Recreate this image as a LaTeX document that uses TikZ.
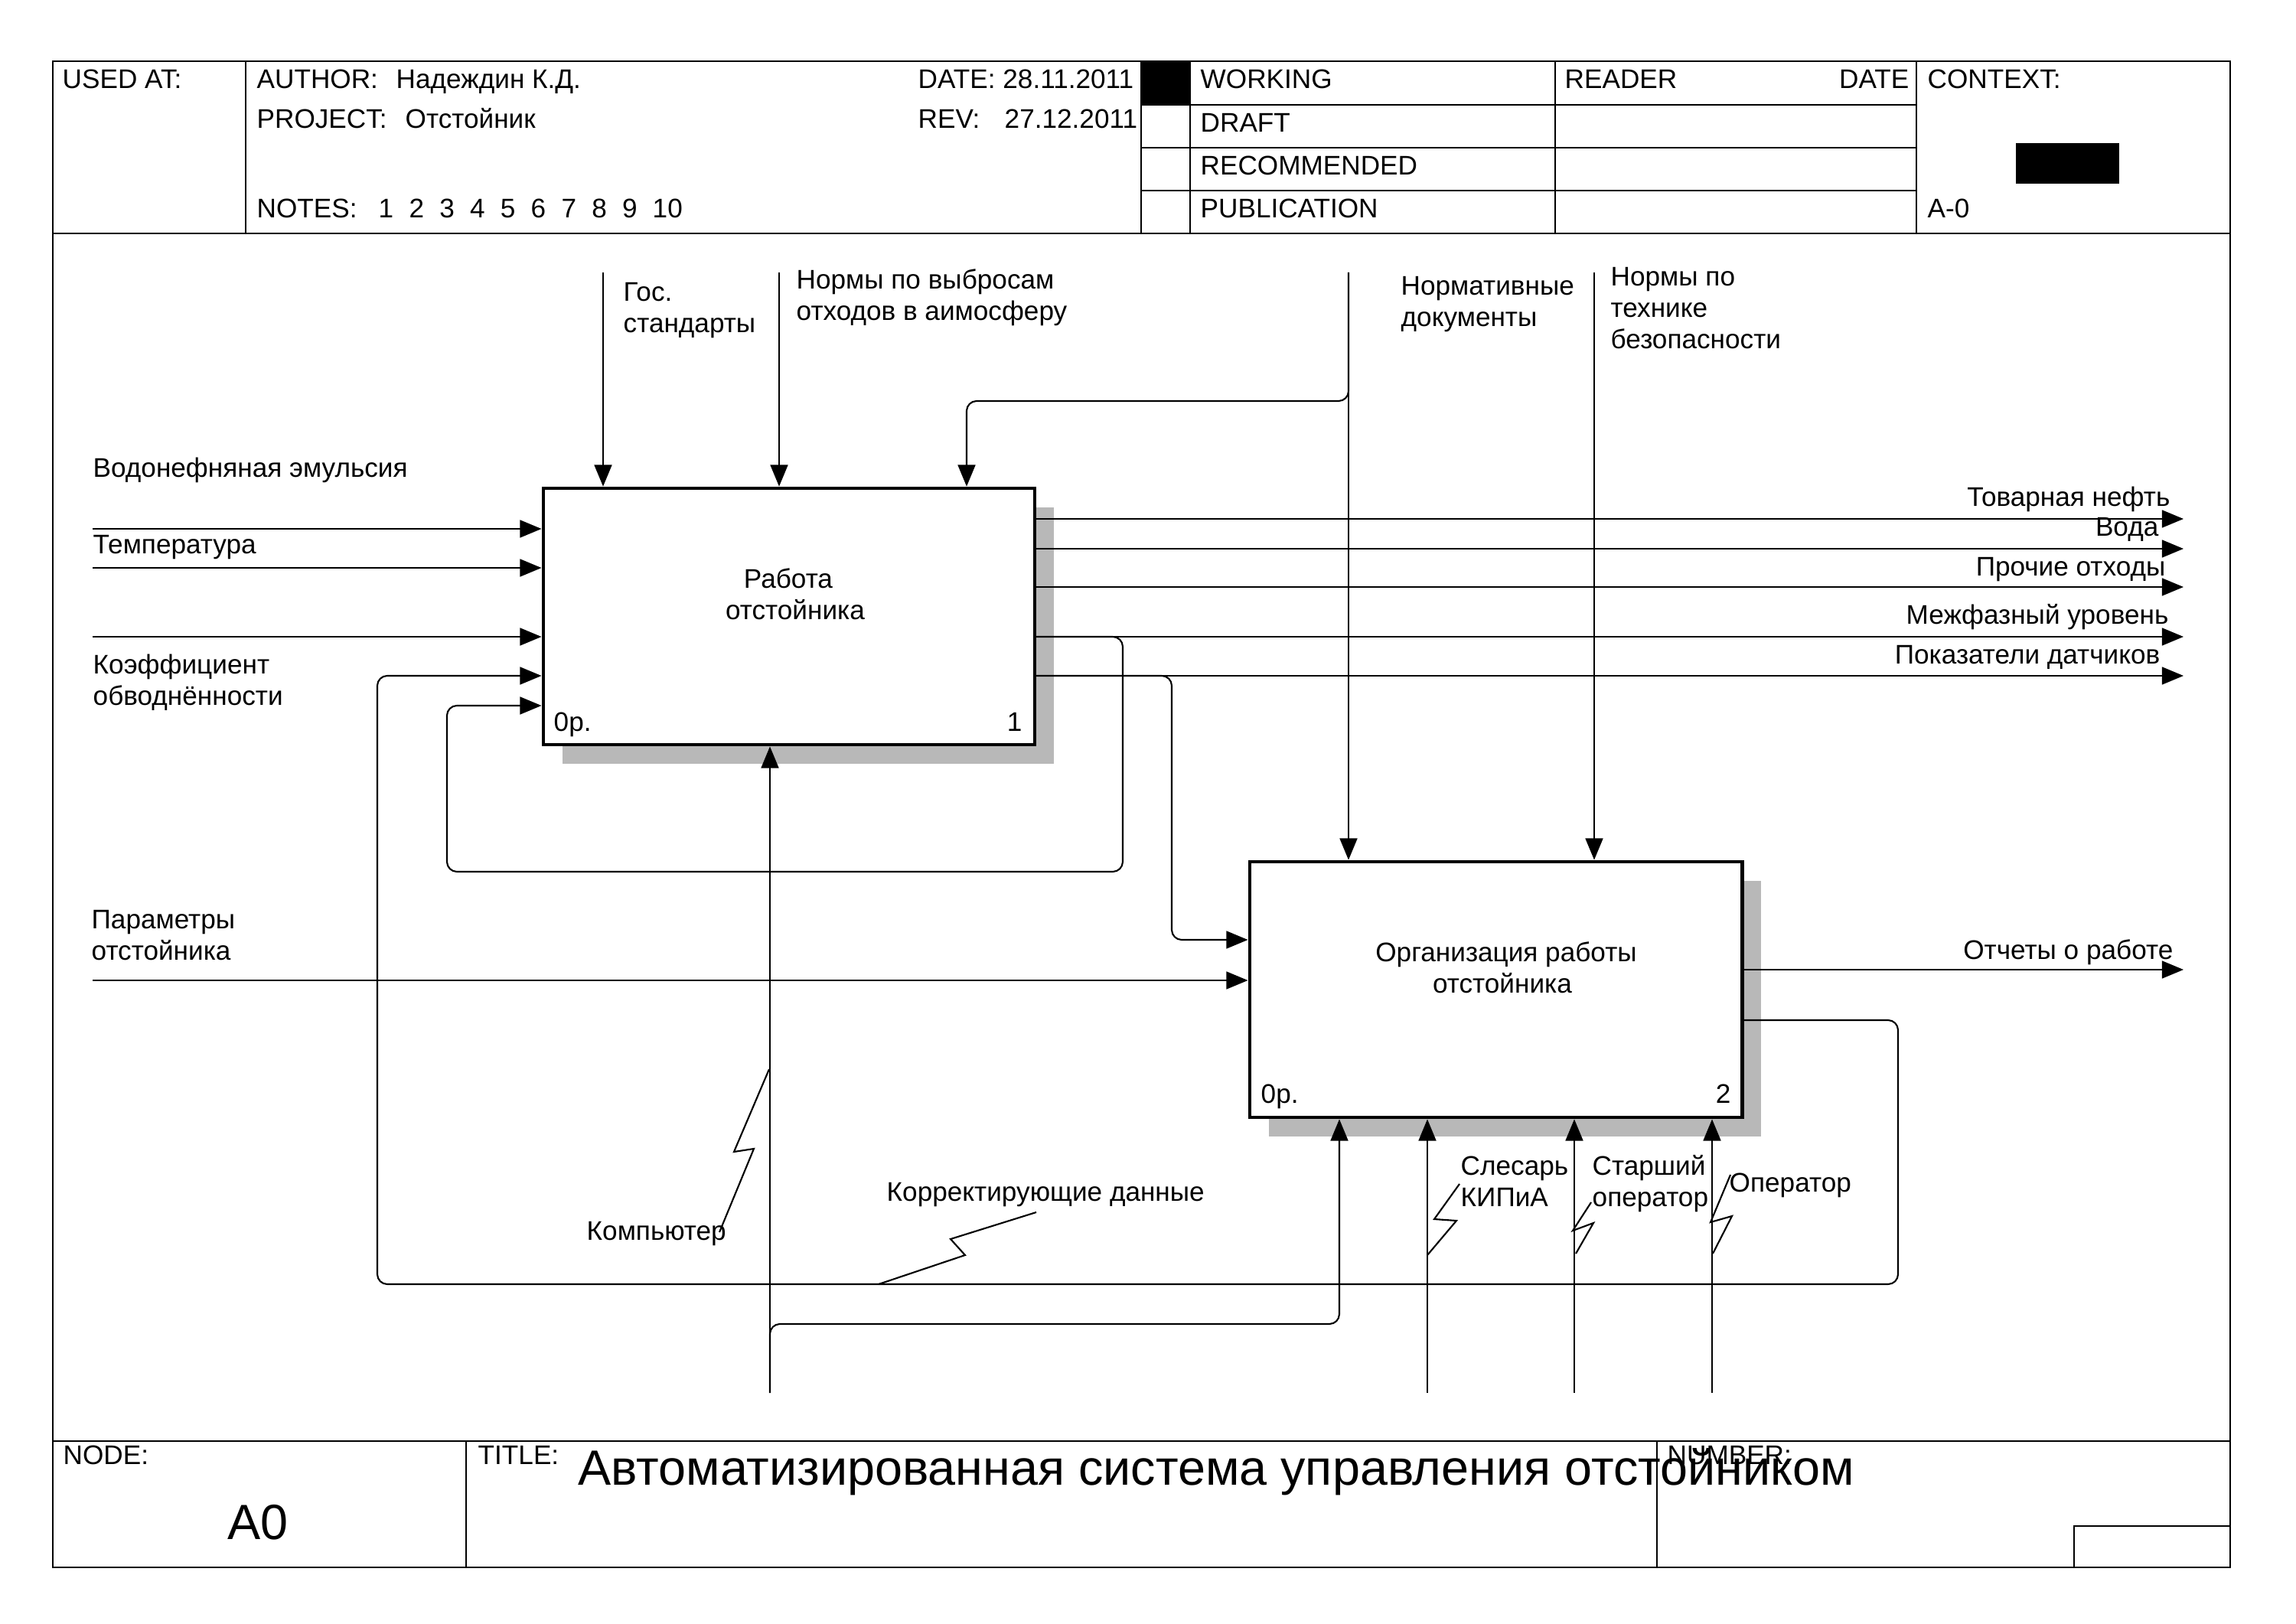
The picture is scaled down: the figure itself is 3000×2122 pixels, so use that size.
\documentclass[tikz,border=0pt]{standalone}
\usepackage{fontspec}
\setmainfont{Liberation Sans}
\usetikzlibrary{arrows.meta,shadows,calc}
\begin{document}
\begin{tikzpicture}[x=0.01cm,y=-0.01cm,
  frm/.style={line width=0.8pt},
  lbl/.style={inner sep=0pt, font=\fontsize{10}{12}\selectfont},
  big/.style={inner sep=0pt, font=\fontsize{18.4}{21}\selectfont},
  box/.style={draw, line width=1.3pt, fill=white, inner sep=0pt,
    drop shadow={shadow xshift=0.25cm, shadow yshift=-0.25cm, fill=black!28, opacity=1}},
  conn/.style={line width=0.6pt, rounded corners=3.7pt},
  arr/.style={conn, -{Triangle[length=8pt,width=6.5pt]}},
  sq/.style={line width=0.6pt},
]
\useasboundingbox (0,0) rectangle (3000,2122);
\fill[white] (0,0) rectangle (3000,2122);

% ---------- frame ----------
\draw[frm] (69,80) rectangle (2914,2048);
\draw[frm] (69,305) -- (2914,305);
\draw[frm] (69,1883) -- (2914,1883);
\foreach \xx in {321,1491,1555,2032,2504} \draw[frm] (\xx,80) -- (\xx,305);
\foreach \yy in {137,193,249} \draw[frm] (1491,\yy) -- (2504,\yy);
\fill (1491,80) rectangle (1555,137);
\fill (2634,187) rectangle (2769,240);
\draw[frm] (609,1883) -- (609,2048);
\draw[frm] (2165,1883) -- (2165,2048);
\draw[frm] (2710,2048) -- (2710,1994) -- (2914,1994);

% ---------- header texts ----------
\node[lbl,anchor=base west] (hUsed) at (81,116) {USED AT:};
\node[lbl,anchor=base west] (hAuth) at (335,116) {AUTHOR:};
\node[lbl,anchor=base west] (hAuthV) at (517,116) {Надеждин К.Д.};
\node[lbl,anchor=base west] (hProj) at (335,168) {PROJECT:};
\node[lbl,anchor=base west] (hProjV) at (529,168) {Отстойник};
\node[lbl,anchor=base west] (hNotes) at (335,285) {NOTES:};
\foreach \n in {1,...,9} \node[lbl,anchor=base west] (hN\n) at ({494+39.8*(\n-1)},285) {\n};
\node[lbl,anchor=base west] (hN10) at (852,285) {10};
\node[lbl,anchor=base west] (hDate) at (1199,116) {DATE: 28.11.2011};
\node[lbl,anchor=base west] (hRev) at (1199,168) {REV:};
\node[lbl,anchor=base west] (hRevV) at (1312,168) {27.12.2011};
\node[lbl,anchor=base west] (hWork) at (1568,116) {WORKING};
\node[lbl,anchor=base west] (hDraft) at (1568,173) {DRAFT};
\node[lbl,anchor=base west] (hRec) at (1568,229) {RECOMMENDED};
\node[lbl,anchor=base west] (hPub) at (1568,285) {PUBLICATION};
\node[lbl,anchor=base west] (hRead) at (2044,116) {READER};
\node[lbl,anchor=base east] (hRDate) at (2495,116) {DATE};
\node[lbl,anchor=base west] (hCtx) at (2518,116) {CONTEXT:};
\node[lbl,anchor=base west] (hA0) at (2518,285) {A-0};

% ---------- footer texts ----------
\node[lbl,anchor=base west] (fNode) at (82,1913) {NODE:};
\node[lbl,anchor=base west] (fTitle) at (624,1913) {TITLE:};
\node[lbl,anchor=base west] (fNum) at (2178,1913) {NUMBER:};
\node[big,anchor=base west] (fTitleV) at (755,1940) {Автоматизированная система управления отстойником};
\node[big,anchor=base] (fNodeV) at (337,2011) {A0};

% ---------- boxes ----------
\node[box, minimum width=6.42cm, minimum height=3.35cm] (b1) at (1031,805.5) {};
\node[box, minimum width=6.43cm, minimum height=3.34cm] (b2) at (1954.5,1293) {};
\node[lbl,anchor=base] (t1a) at (1030,768) {Работа};
\node[lbl,anchor=base] (t1b) at (1039,809) {отстойника};
\node[lbl,anchor=base west] (t1c) at (723,955) {0р.};
\node[lbl,anchor=base east] (t1d) at (1336,955) {1};
\node[lbl,anchor=base] (t2a) at (1968,1256) {Организация работы};
\node[lbl,anchor=base] (t2b) at (1963,1297) {отстойника};
\node[lbl,anchor=base west] (t2c) at (1647,1441) {0р.};
\node[lbl,anchor=base east] (t2d) at (2262,1441) {2};

% ---------- coordinates ----------
\coordinate (cA) at (788,356);
\coordinate (cB) at (1018,356);
\coordinate (cC) at (1762,356);
\coordinate (cD) at (2083,356);
\coordinate (cCx) at (1263,524);
\coordinate (iA) at (121,691);
\coordinate (iB) at (121,742);
\coordinate (iC) at (121,832);
\coordinate (iD) at (121,1281);
\coordinate (oA) at (2853,678);
\coordinate (oB) at (2853,717);
\coordinate (oC) at (2853,767);
\coordinate (oD) at (2853,832);
\coordinate (oE) at (2853,883);
\coordinate (oF) at (2853,1267);
\coordinate (lAx) at (1467,1139);
\coordinate (lAy) at (584,1139);
\coordinate (lAz) at (584,922);
\coordinate (lBx) at (1531,1228);
\coordinate (oG) at (2480,1333);
\coordinate (lCa) at (2480,1678);
\coordinate (lCb) at (493,1678);
\coordinate (lCc) at (493,883);
\coordinate (mA) at (1006,1820);
\coordinate (mAx) at (1750,1730);
\coordinate (mB) at (1865,1820);
\coordinate (mC) at (2057,1820);
\coordinate (mD) at (2237,1820);

% ---------- controls ----------
\draw[arr] (cA) -- (cA |- b1.north);
\draw[arr] (cB) -- (cB |- b1.north);
\draw[arr] (cC) -- (cC |- b2.north);
\draw[arr] (cC) |- (cCx) -- (cCx |- b1.north);
\draw[arr] (cD) -- (cD |- b2.north);

% ---------- inputs ----------
\draw[arr] (iA) -- (iA -| b1.west);
\draw[arr] (iB) -- (iB -| b1.west);
\draw[arr] (iC) -- (iC -| b1.west);
\draw[arr] (iD) -- (iD -| b2.west);

% ---------- outputs ----------
\draw[arr] (oA -| b1.east) -- (oA);
\draw[arr] (oB -| b1.east) -- (oB);
\draw[arr] (oC -| b1.east) -- (oC);
\draw[arr] (oD -| b1.east) -- (oD);
\draw[arr] (oE -| b1.east) -- (oE);
\draw[arr] (oF -| b2.east) -- (oF);

% ---------- feedback loops ----------
\draw[arr] (oD -| b1.east) -| (lAx) -- (lAy) -- (lAz) -- (lAz -| b1.west);
\draw[arr] (oE -| b1.east) -| (lBx) -- (lBx -| b2.west);
\draw[arr] (oG -| b2.east) -- (oG) -- (lCa) -- (lCb) -- (lCc) -- (lCc -| b1.west);

% ---------- mechanisms ----------
\draw[arr] (mA) -- (mA |- b1.south);
\draw[arr] (mA) |- (mAx) -- (mAx |- b2.south);
\draw[arr] (mB) -- (mB |- b2.south);
\draw[arr] (mC) -- (mC |- b2.south);
\draw[arr] (mD) -- (mD |- b2.south);

% ---------- squiggles ----------
\draw[sq] (1005,1397) -- (959,1505) -- (985,1501) -- (940,1610);
\draw[sq] (1354,1584) -- (1242,1619) -- (1261,1640) -- (1148,1678);
\draw[sq] (1907,1547) -- (1874,1593) -- (1903,1595) -- (1865,1640);
\draw[sq] (2079,1571) -- (2055,1608) -- (2082,1598) -- (2059,1638);
\draw[sq] (2261,1535) -- (2235,1597) -- (2263,1589) -- (2238,1638);

% ---------- labels ----------
\node[lbl,anchor=base west] (gA1) at (814,394) {Гос.};
\node[lbl,anchor=base west] (gA2) at (814,435) {стандарты};
\node[lbl,anchor=base west] (gB1) at (1040,378) {Нормы по выбросам};
\node[lbl,anchor=base west] (gB2) at (1040,419) {отходов в аимосферу};
\node[lbl,anchor=base west] (gC1) at (1830,386) {Нормативные};
\node[lbl,anchor=base west] (gC2) at (1830,427) {документы};
\node[lbl,anchor=base west] (gD1) at (2104,374) {Нормы по};
\node[lbl,anchor=base west] (gD2) at (2104,415) {технике};
\node[lbl,anchor=base west] (gD3) at (2104,456) {безопасности};
\node[lbl,anchor=base west] (gE) at (121,624) {Водонефняная эмульсия};
\node[lbl,anchor=base west] (gF) at (121,724) {Температура};
\node[lbl,anchor=base west] (gG1) at (121,880) {Коэффициент};
\node[lbl,anchor=base west] (gG2) at (121,921) {обводнённости};
\node[lbl,anchor=base west] (gH1) at (119,1213) {Параметры};
\node[lbl,anchor=base west] (gH2) at (119,1254) {отстойника};
\node[lbl,anchor=base east] (pA) at (2836,662) {Товарная нефть};
\node[lbl,anchor=base east] (pB) at (2821,701) {Вода};
\node[lbl,anchor=base east] (pC) at (2830,752) {Прочие отходы};
\node[lbl,anchor=base east] (pD) at (2834,815) {Межфазный уровень};
\node[lbl,anchor=base east] (pE) at (2823,867) {Показатели датчиков};
\node[lbl,anchor=base east] (pF) at (2840,1253) {Отчеты о работе};
\node[lbl,anchor=base west] (kA1) at (1908,1535) {Слесарь};
\node[lbl,anchor=base west] (kA2) at (1908,1576) {КИПиА};
\node[lbl,anchor=base west] (kB1) at (2080,1535) {Старший};
\node[lbl,anchor=base west] (kB2) at (2080,1576) {оператор};
\node[lbl,anchor=base west] (kC) at (2259,1557) {Оператор};
\node[lbl,anchor=base west] (kD) at (766,1620) {Компьютер};
\node[lbl,anchor=base west] (kE) at (1158,1569) {Корректирующие данные};
\end{tikzpicture}
\end{document}
